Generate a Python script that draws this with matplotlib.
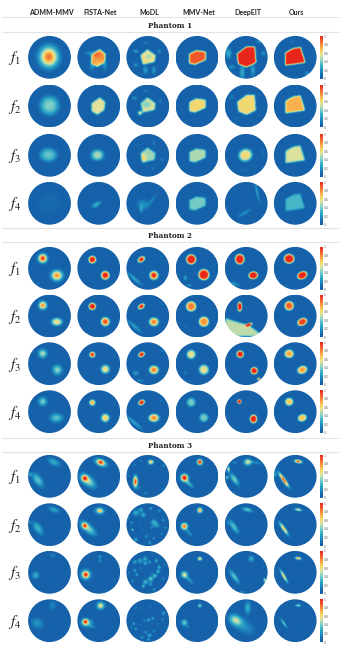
import numpy as np
import matplotlib
matplotlib.use('Agg')
import matplotlib.pyplot as plt
from matplotlib.colors import LinearSegmentedColormap, Normalize
from matplotlib.cm import ScalarMappable
from matplotlib.path import Path
from matplotlib.patches import Circle

METHODS = ['ADMM-MMV', 'FISTA-Net', 'MoDL', 'MMV-Net', 'DeepEIT', 'Ours']
PHANTOMS = ['Phantom 1', 'Phantom 2', 'Phantom 3']
FREQS = ['$f_1$', '$f_2$', '$f_3$', '$f_4$']
CBAR_TICKS = [0, 0.2, 0.4, 0.6, 0.8, 1]
CBAR_LABELS = ['0', '0.2', '0.4', '0.6', '0.8', '1']

# colours
CMAP_VALUES = [0.0, 0.05, 0.17, 0.3, 0.42, 0.55, 0.65, 0.8, 1.0]
CMAP_COLORS = ['#1662aa', '#1662aa', '#1c86bd', '#35aec8', '#82d0c4', '#e3e39a',
               '#f9d45e', '#f58a3c', '#e8261c']

# phantom 1 inclusion outline per method, disc coordinates
P1_OUTLINES = [
    [],
    [(-0.3, 0.1), (0.05, 0.35), (0.3, 0.15), (0.25, -0.2), (-0.05, -0.4), (-0.3, -0.25)],
    [(-0.3, 0.1), (0.0, 0.35), (0.35, 0.1), (0.3, -0.2), (-0.2, -0.3)],
    [(-0.35, 0.15), (-0.05, 0.3), (0.35, 0.25), (0.35, -0.1), (-0.1, -0.3), (-0.35, -0.25)],
    [(-0.4, 0.15), (0.0, 0.45), (0.35, 0.45), (0.4, -0.2), (0.0, -0.4), (-0.35, -0.25)],
    [(-0.44, 0.19), (-0.11, 0.38), (0.21, 0.43), (0.41, -0.21), (-0.43, -0.33)],
]
# level of that outline, one row per frequency
P1_LEVELS = [
    [0.0, 0.68, 0.62, 0.9, 1.1, 1.1],
    [0.0, 0.55, 0.55, 0.62, 0.62, 0.72],
    [0.0, 0.0, 0.46, 0.48, 0.0, 0.54],
    [0.0, 0.0, 0.0, 0.4, 0.0, 0.33],
]

# blobs: x, y, rx, ry, angle, level, [edge sharpness]
P1_F1 = [
    [(-0.03, 0.03, 0.33, 0.36, 0, 0.85)],
    [(0.0, 0.1, 0.2, 0.2, 0, 0.15), (-0.4, 0.2, 0.22, 0.09, 0, 0.2), (0.3, -0.35, 0.1, 0.25, 0, 0.2),
     (-0.3, -0.4, 0.1, 0.2, 0, 0.2)],
    [(0.05, 0.05, 0.15, 0.15, 0, -0.15), (-0.55, 0.3, 0.12, 0.07, 0, 0.25), (-0.1, -0.6, 0.1, 0.15, 0, 0.25),
     (0.3, -0.6, 0.08, 0.15, 0, 0.25), (-0.55, -0.35, 0.1, 0.08, 0, 0.22), (0.55, 0.3, 0.08, 0.1, 0, 0.2),
     (-0.1, 0.7, 0.15, 0.06, 0, 0.15)],
    [(0.5, -0.5, 0.1, 0.1, 0, 0.06)],
    [(-0.85, 0.2, 0.12, 0.2, 0, 0.3), (0.8, 0.2, 0.1, 0.1, 0, 0.2), (-0.2, -0.7, 0.1, 0.3, 0, 0.3),
     (0.3, -0.6, 0.1, 0.25, 0, 0.25), (-0.7, -0.45, 0.15, 0.1, 0, 0.2), (0.6, 0.75, 0.15, 0.08, 0, 0.2)],
    [(0.55, -0.75, 0.1, 0.1, 0, 0.2), (-0.15, 0.75, 0.15, 0.08, 0, 0.12), (-0.7, 0.3, 0.1, 0.1, 0, 0.08)],
]
P1_F2 = [
    [(0.0, 0.0, 0.42, 0.42, 0, 0.42, 3)],
    [(0.45, 0.4, 0.1, 0.1, 0, 0.05)],
    [(-0.35, -0.35, 0.08, 0.08, 0, 0.6), (-0.05, 0.05, 0.16, 0.12, 0, -0.15), (-0.6, 0.35, 0.12, 0.08, 0, 0.2),
     (0.6, 0.2, 0.08, 0.1, 0, 0.15), (-0.1, 0.7, 0.12, 0.06, 0, 0.15)],
    [],
    [(-0.7, 0.4, 0.15, 0.15, 0, 0.12), (0.6, 0.5, 0.12, 0.1, 0, 0.1), (-0.5, -0.6, 0.15, 0.08, 0, 0.1)],
    [(0.5, 0.6, 0.1, 0.1, 0, 0.05)],
]
P1_F3 = [
    [(-0.05, 0.03, 0.38, 0.3, 0, 0.38, 3)],
    [(-0.05, 0.02, 0.28, 0.24, 0, 0.48, 3)],
    [(-0.22, -0.15, 0.1, 0.15, 0, 0.22), (0.3, 0.6, 0.06, 0.15, 0, 0.15), (0.7, -0.2, 0.08, 0.08, 0, 0.15),
     (0.25, -0.6, 0.08, 0.08, 0, 0.15), (-0.5, 0.5, 0.08, 0.06, 0, 0.1)],
    [],
    [(-0.05, 0.02, 0.3, 0.27, 25, 0.62, 4), (0.75, 0.1, 0.05, 0.3, 0, 0.12), (-0.1, -0.7, 0.3, 0.07, 0, 0.1)],
    [],
]
P1_F4 = [
    [(0.0, 0.0, 0.8, 0.8, 0, 0.08)],
    [(-0.1, -0.05, 0.2, 0.09, 30, 0.32)],
    [(-0.2, -0.05, 0.25, 0.2, 0, 0.22), (0.25, 0.2, 0.06, 0.25, -35, 0.16), (-0.3, -0.3, 0.06, 0.15, 0, 0.18),
     (0.6, -0.1, 0.08, 0.06, 0, 0.08)],
    [],
    [(0.5, 0.55, 0.06, 0.4, 12, 0.24), (-0.1, -0.45, 0.3, 0.07, 30, 0.2), (-0.4, 0.2, 0.5, 0.4, 0, 0.06)],
    [],
]

P2_F1 = [
    [(-0.32, 0.48, 0.15, 0.15, 0, 1.0), (0.35, -0.33, 0.2, 0.18, 0, 0.8), (-0.55, -0.7, 0.1, 0.05, 0, 0.12)],
    [(-0.29, 0.42, 0.16, 0.16, 0, 1.05, 4), (0.32, -0.32, 0.18, 0.18, 0, 1.0, 4)],
    [(-0.29, 0.43, 0.16, 0.11, 35, 1.05, 3), (0.3, -0.32, 0.18, 0.18, 0, 1.0, 3),
     (-0.62, -0.48, 0.38, 0.07, -40, 0.28), (0.65, 0.55, 0.12, 0.05, 30, 0.12)],
    [(-0.3, 0.43, 0.21, 0.21, 0, 1.1, 5), (0.3, -0.29, 0.23, 0.23, 0, 1.1, 5),
     (-0.57, -0.44, 0.07, 0.09, 0, 0.28), (-0.38, -0.79, 0.1, 0.05, 0, 0.25)],
    [(-0.32, 0.44, 0.2, 0.22, 0, 1.1, 5), (0.32, -0.32, 0.2, 0.16, 10, 1.1, 5),
     (-0.6, -0.73, 0.25, 0.08, -15, 0.22)],
    [(-0.3, 0.46, 0.22, 0.2, 0, 1.1, 5), (0.32, -0.32, 0.22, 0.16, 25, 1.1, 5),
     (-0.4, -0.8, 0.15, 0.05, 0, 0.12)],
]
P2_F2 = [
    [(-0.32, 0.48, 0.14, 0.14, 0, 0.82), (0.35, -0.3, 0.24, 0.17, 0, 0.58, 3)],
    [(-0.29, 0.43, 0.15, 0.15, 0, 1.05, 4), (0.32, -0.29, 0.18, 0.18, 0, 0.92, 3),
     (-0.55, -0.5, 0.1, 0.05, 0, 0.1)],
    [(-0.29, 0.43, 0.15, 0.1, 35, 1.05, 3), (0.3, -0.3, 0.2, 0.18, 0, 0.82, 3),
     (-0.62, -0.5, 0.38, 0.07, -40, 0.26), (0.7, 0.55, 0.1, 0.05, 30, 0.12)],
    [(-0.3, 0.43, 0.22, 0.22, 0, 0.82, 5), (0.3, -0.29, 0.22, 0.22, 0, 0.78, 5),
     (-0.55, -0.5, 0.1, 0.06, 0, 0.12)],
    [(-0.32, 0.42, 0.1, 0.2, 0, 1.1, 4), (0.12, -0.43, 0.15, 0.06, 20, 1.1, 3)],
    [(-0.3, 0.46, 0.2, 0.2, 0, 0.88, 5), (0.32, -0.3, 0.22, 0.16, 25, 0.95, 5)],
]
P2_F3 = [
    [(-0.32, 0.47, 0.16, 0.16, 0, 0.5), (0.37, -0.3, 0.18, 0.18, 0, 0.45)],
    [(-0.29, 0.42, 0.12, 0.12, 0, 1.0, 3), (0.32, -0.27, 0.19, 0.19, 0, 0.6, 3)],
    [(-0.28, 0.43, 0.14, 0.1, 30, 1.1, 3), (0.3, -0.3, 0.2, 0.18, 0, 0.82, 3),
     (-0.55, -0.45, 0.12, 0.1, 0, 0.25), (-0.35, -0.8, 0.15, 0.06, -20, 0.2), (0.7, 0.6, 0.1, 0.05, 0, 0.15),
     (-0.8, -0.1, 0.06, 0.05, 0, 0.12)],
    [(-0.3, 0.43, 0.2, 0.2, 0, 0.58, 4), (0.3, -0.29, 0.22, 0.22, 0, 0.58, 4),
     (-0.57, -0.44, 0.07, 0.09, 0, 0.15), (-0.38, -0.8, 0.1, 0.05, 0, 0.12)],
    [(-0.3, 0.44, 0.15, 0.15, 0, 1.1, 4), (0.36, -0.34, 0.15, 0.15, 0, 1.1, 4),
     (0.58, -0.73, 0.05, 0.05, 0, 1.0), (0.7, 0.4, 0.06, 0.15, 0, 0.1)],
    [(-0.3, 0.46, 0.2, 0.18, 0, 0.75, 4), (0.32, -0.3, 0.22, 0.17, 20, 0.76, 4),
     (-0.55, -0.5, 0.1, 0.06, 0, 0.1)],
]
P2_F4 = [
    [(-0.32, 0.47, 0.16, 0.16, 0, 0.42), (0.33, -0.3, 0.24, 0.17, 0, 0.38)],
    [(-0.29, 0.42, 0.13, 0.13, 0, 0.72, 3), (0.32, -0.3, 0.18, 0.18, 0, 0.65, 3)],
    [(-0.28, 0.43, 0.14, 0.1, 30, 1.1, 3), (0.3, -0.3, 0.22, 0.17, 0, 0.8, 3),
     (-0.65, -0.5, 0.42, 0.07, -40, 0.28), (0.65, 0.5, 0.12, 0.05, 30, 0.13)],
    [(-0.3, 0.43, 0.2, 0.2, 0, 0.4, 4), (0.3, -0.29, 0.2, 0.2, 0, 0.4, 4)],
    [(-0.34, 0.47, 0.09, 0.09, 0, 1.1, 4), (0.33, -0.35, 0.15, 0.18, 0, 1.1, 4),
     (-0.6, -0.7, 0.12, 0.05, 0, 0.1)],
    [(-0.3, 0.46, 0.18, 0.17, 0, 0.68, 4), (0.32, -0.3, 0.2, 0.16, 20, 0.68, 4)],
]
# wedge of artefact in DeepEIT, phantom 2, f2
P2_WEDGE = [(-1.0, -0.1), (-0.6, -0.25), (0.12, -0.45), (0.85, -1.0), (-1.0, -1.0)]
P2_WEDGE_LEVEL = 0.5

P3_F1 = [
    [(0.2, 0.68, 0.25, 0.12, -25, 0.3), (-0.55, -0.16, 0.3, 0.15, -55, 0.38), (-0.92, 0.1, 0.05, 0.06, 0, 0.3)],
    [(0.1, 0.67, 0.12, 0.08, -20, 0.65), (0.12, 0.65, 0.26, 0.14, -25, 0.4), (-0.65, -0.08, 0.1, 0.1, 0, 0.75),
     (-0.5, -0.2, 0.33, 0.17, -40, 0.5)],
    [(0.16, 0.68, 0.1, 0.08, 0, 0.7), (-0.57, -0.24, 0.08, 0.2, 0, 0.95), (-0.4, -0.55, 0.06, 0.08, 0, 0.15),
     (0.75, 0.5, 0.05, 0.06, 0, 0.2), (-0.6, 0.55, 0.05, 0.05, 0, 0.2), (-0.3, 0.75, 0.05, 0.05, 0, 0.2),
     (-0.9, 0.05, 0.05, 0.08, 0, 0.15), (0.7, -0.6, 0.06, 0.05, 0, 0.15), (-0.1, -0.8, 0.1, 0.05, 0, 0.2),
     (0.85, 0.1, 0.04, 0.06, 0, 0.12), (0.0, 0.2, 0.05, 0.05, 0, 0.08)],
    [(0.11, 0.68, 0.07, 0.07, 0, 1.0), (0.11, 0.68, 0.14, 0.14, 0, 0.3), (-0.62, -0.05, 0.1, 0.1, 0, 0.85),
     (-0.6, -0.08, 0.17, 0.17, 0, 0.35), (-0.38, -0.35, 0.22, 0.07, -45, 0.3)],
    [(0.06, 0.68, 0.14, 0.12, 0, 0.55), (-0.57, -0.13, 0.26, 0.1, -55, 0.42), (-0.85, 0.35, 0.05, 0.1, 0, 0.55),
     (-0.92, -0.05, 0.04, 0.06, 0, 0.5), (0.5, 0.65, 0.25, 0.05, -10, 0.2), (-0.55, 0.65, 0.12, 0.05, 0, 0.2)],
    [(0.13, 0.71, 0.13, 0.06, -10, 0.95), (-0.55, -0.16, 0.3, 0.06, -55, 0.95), (-0.95, 0.1, 0.04, 0.1, 0, 0.35),
     (0.85, -0.5, 0.05, 0.05, 0, 0.1)],
]
P3_F2 = [
    [(0.2, 0.7, 0.22, 0.1, -20, 0.27), (-0.55, -0.17, 0.28, 0.14, -55, 0.33), (-0.92, 0.1, 0.04, 0.05, 0, 0.22)],
    [(0.06, 0.65, 0.1, 0.07, -10, 0.45), (0.06, 0.65, 0.2, 0.15, 0, 0.3), (-0.65, -0.05, 0.09, 0.09, 0, 0.7),
     (-0.5, -0.17, 0.35, 0.15, -40, 0.45)],
    [],
    [(0.11, 0.67, 0.08, 0.08, 0, 0.6), (0.11, 0.67, 0.13, 0.13, 0, 0.2), (-0.63, -0.08, 0.1, 0.1, 0, 0.65),
     (-0.6, -0.08, 0.15, 0.15, 0, 0.25), (-0.38, -0.4, 0.2, 0.06, -45, 0.22)],
    [(0.03, 0.7, 0.2, 0.08, -15, 0.38), (-0.6, -0.1, 0.3, 0.1, -55, 0.37), (-0.9, 0.05, 0.04, 0.06, 0, 0.15)],
    [(0.13, 0.7, 0.13, 0.05, -10, 0.6), (-0.55, -0.2, 0.27, 0.06, -55, 0.7), (-0.95, 0.1, 0.04, 0.08, 0, 0.15)],
]
P3_F3 = [
    [(0.16, 0.81, 0.12, 0.1, 0, 0.15), (-0.65, -0.13, 0.14, 0.14, 0, 0.3)],
    [(0.06, 0.75, 0.07, 0.07, 0, 0.25), (0.06, 0.55, 0.06, 0.06, 0, 0.25), (-0.6, -0.1, 0.1, 0.1, 0, 0.7),
     (-0.6, -0.1, 0.2, 0.2, 0, 0.4)],
    [],
    [(0.11, 0.65, 0.08, 0.07, 0, 0.65), (-0.62, -0.1, 0.12, 0.12, 0, 0.55), (-0.38, -0.35, 0.2, 0.07, -45, 0.25)],
    [(0.22, 0.65, 0.12, 0.12, 0, 0.3), (-0.57, -0.2, 0.3, 0.09, -55, 0.38), (0.87, -0.37, 0.05, 0.09, 20, 0.55),
     (0.8, 0.25, 0.05, 0.05, 0, 0.12), (-0.2, -0.92, 0.08, 0.03, 0, 0.3)],
    [(0.13, 0.67, 0.11, 0.05, -10, 0.8), (-0.55, -0.17, 0.25, 0.05, -60, 0.68), (-0.95, 0.0, 0.03, 0.1, 0, 0.2)],
]
P3_F4 = [
    [(0.14, 0.71, 0.15, 0.2, 0, 0.17), (-0.57, -0.13, 0.25, 0.2, -30, 0.22)],
    [(0.1, 0.7, 0.1, 0.1, 0, 0.4), (0.1, 0.7, 0.18, 0.17, 0, 0.25), (-0.62, -0.05, 0.09, 0.09, 0, 0.75),
     (-0.55, -0.12, 0.22, 0.15, 0, 0.4), (-0.25, -0.3, 0.15, 0.04, -10, 0.15)],
    [],
    [(0.11, 0.7, 0.07, 0.07, 0, 0.45), (-0.62, -0.1, 0.12, 0.12, 0, 0.4), (-0.45, -0.3, 0.1, 0.05, -45, 0.15)],
    [(0.06, 0.6, 0.12, 0.25, 0, 0.3), (-0.52, 0.03, 0.25, 0.18, -30, 0.45), (-0.1, -0.3, 0.45, 0.25, -30, 0.2),
     (0.85, -0.6, 0.05, 0.1, 0, 0.3), (-0.55, 0.6, 0.2, 0.1, 0, 0.08)],
    [(0.13, 0.71, 0.1, 0.05, 0, 0.45), (-0.55, -0.13, 0.2, 0.05, -55, 0.38)],
]

# MoDL speckle for phantom 3: x, y, radius, level
MODL_F2 = [(-0.55, 0.55, 0.12, 0.3), (-0.3, 0.7, 0.08, 0.28), (-0.2, 0.45, 0.1, 0.28), (0.15, 0.75, 0.05, 0.35),
           (0.55, 0.65, 0.07, 0.2), (-0.75, 0.1, 0.06, 0.25), (-0.7, -0.25, 0.05, 0.4), (-0.55, -0.7, 0.07, 0.3),
           (0.3, 0.1, 0.12, 0.3), (0.45, -0.05, 0.1, 0.22), (0.2, -0.15, 0.06, 0.2), (0.75, 0.2, 0.06, 0.25),
           (-0.05, -0.55, 0.08, 0.2), (0.3, -0.65, 0.06, 0.22), (0.65, -0.45, 0.06, 0.18), (-0.2, -0.2, 0.05, 0.15),
           (0.85, -0.15, 0.05, 0.25), (-0.9, 0.3, 0.04, 0.22), (0.1, -0.85, 0.07, 0.25), (-0.35, 0.1, 0.05, 0.15)]
MODL_F3 = [(-0.6, 0.5, 0.07, 0.3), (-0.35, 0.55, 0.1, 0.28), (-0.1, 0.65, 0.08, 0.32), (-0.1, 0.42, 0.07, 0.3),
           (0.1, 0.5, 0.06, 0.28), (0.42, 0.55, 0.07, 0.3), (0.55, 0.25, 0.07, 0.32), (0.5, 0.05, 0.07, 0.35),
           (0.35, -0.15, 0.08, 0.35), (0.15, -0.3, 0.1, 0.38), (-0.1, -0.45, 0.09, 0.35), (-0.2, -0.65, 0.06, 0.35),
           (0.15, -0.55, 0.07, 0.25), (-0.6, 0.1, 0.06, 0.3), (-0.5, -0.1, 0.06, 0.28), (-0.7, -0.4, 0.06, 0.25),
           (0.75, -0.3, 0.05, 0.22), (0.3, -0.8, 0.06, 0.25), (-0.85, 0.0, 0.05, 0.2), (0.8, 0.35, 0.05, 0.2),
           (0.2, -0.05, 0.05, 0.15), (-0.3, 0.2, 0.05, 0.18)]
MODL_F4 = [(-0.55, 0.6, 0.05, 0.2), (-0.25, 0.5, 0.05, 0.15), (0.15, 0.65, 0.05, 0.15), (0.75, 0.35, 0.07, 0.28),
           (0.7, 0.05, 0.05, 0.25), (0.25, 0.1, 0.06, 0.3), (0.05, 0.02, 0.07, 0.3), (-0.15, 0.0, 0.05, 0.22),
           (-0.65, -0.15, 0.05, 0.35), (-0.55, -0.4, 0.05, 0.3), (-0.75, -0.3, 0.04, 0.25), (-0.1, -0.55, 0.07, 0.22),
           (0.1, -0.7, 0.08, 0.3), (0.3, -0.5, 0.06, 0.22), (-0.25, -0.8, 0.06, 0.25), (0.85, -0.35, 0.05, 0.15),
           (0.05, -0.9, 0.05, 0.3), (0.5, -0.15, 0.04, 0.15)]

P1_ROWS = [P1_F1, P1_F2, P1_F3, P1_F4]
P2_ROWS = [P2_F1, P2_F2, P2_F3, P2_F4]
P3_ROWS = [P3_F1, P3_F2, P3_F3, P3_F4]
MODL_ROWS = [None, MODL_F2, MODL_F3, MODL_F4]

W, H = 345, 650
COL_X = [49.5, 98.8, 147.8, 197.0, 246.2, 295.2]
ROW_Y = [[57.3, 106.0, 155.3, 203.3], [268.3, 316.0, 363.7, 411.7], [476.3, 524.7, 572.3, 620.7]]
RADIUS = 21.4
GRID = 72
POLY_GROW = 1.12    # outlines were read at the pale rim, mask needs to be a bit larger
SOFT_GROW = 1.3     # same for blobs
FLAT_GROW = 1.1

xs = np.linspace(-1, 1, GRID)
X, Y = np.meshgrid(xs, xs)
cmap = LinearSegmentedColormap.from_list('eit', list(zip(CMAP_VALUES, CMAP_COLORS)))
norm = Normalize(0, 1)


def blur(a, n=2):
    # numpy only, small binomial filter applied n times
    k = np.array([1, 4, 6, 4, 1]) / 16
    for _ in range(n):
        a = np.apply_along_axis(lambda r: np.convolve(r, k, mode='same'), 0, a)
        a = np.apply_along_axis(lambda r: np.convolve(r, k, mode='same'), 1, a)
    return a


def polygon_field(outline, level, grow=POLY_GROW):
    if level == 0 or not outline:
        return np.zeros_like(X)
    pts = np.column_stack([X.ravel(), Y.ravel()])
    scaled = np.array(outline) * grow
    mask = Path(scaled).contains_points(pts).reshape(X.shape).astype(float)
    return blur(mask) * level


def blob_field(blob):
    x, y, rx, ry, ang, level = blob[:6]
    p = blob[6] if len(blob) > 6 else 2
    grow = SOFT_GROW if p <= 2 else FLAT_GROW
    t = np.deg2rad(ang)
    u = (X - x) * np.cos(t) + (Y - y) * np.sin(t)
    v = -(X - x) * np.sin(t) + (Y - y) * np.cos(t)
    return level * np.exp(-(np.sqrt((u / (rx * grow)) ** 2 + (v / (ry * grow)) ** 2)) ** p)


def cell_field(p, r, c):
    field = np.zeros_like(X)
    if p == 0:
        field += polygon_field(P1_OUTLINES[c], P1_LEVELS[r][c])
        blobs = P1_ROWS[r][c]
    elif p == 1:
        blobs = P2_ROWS[r][c]
        if r == 1 and c == 4:
            field += polygon_field(P2_WEDGE, P2_WEDGE_LEVEL, grow=1.0)
    else:
        blobs = P3_ROWS[r][c]
        if c == 2 and MODL_ROWS[r] is not None:
            for sx, sy, sr, sl in MODL_ROWS[r]:
                field += blob_field((sx, sy, sr, sr, 0, sl))
    for b in blobs:
        field += blob_field(b)
    return np.clip(field, 0, 1)


def px_axes(fig, left, top, right, bottom):
    return fig.add_axes([left / W, 1 - bottom / H, (right - left) / W, (bottom - top) / H])


fig = plt.figure(figsize=(W / 100, H / 100), dpi=100, facecolor='white')

for name, x in zip(METHODS, COL_X):
    fig.text(x / W + 0.005, 1 - 12.3 / H, name, ha='center', va='center', fontsize=5.0,
             fontweight='bold', family='Lato', color='#222222')

# grey rules around each phantom title
for y in [17.3, 32.3, 227.6, 242.0, 437.6, 452.0]:
    fig.add_artist(plt.Line2D([3 / W, 338 / W], [1 - y / H, 1 - y / H], color='#e2e2e2', lw=0.8))

for p, title in enumerate(PHANTOMS):
    fig.text(170 / W, 1 - [25.8, 236.0, 446.0][p] / H, title, ha='center', va='center', fontsize=5.2,
             fontweight='bold', family='DejaVu Serif', color='#222222')
    for r, freq_y in enumerate(ROW_Y[p]):
        fig.text(14.5 / W, 1 - (freq_y + 1) / H, FREQS[r], ha='center', va='center', fontsize=11,
                 math_fontfamily='stix', color='#222222')
        for c, x in enumerate(COL_X):
            ax = px_axes(fig, x - RADIUS, freq_y - RADIUS, x + RADIUS, freq_y + RADIUS)
            im = ax.imshow(cell_field(p, r, c), cmap=cmap, norm=norm, origin='lower',
                           extent=[-1, 1, -1, 1], interpolation='bilinear')
            im.set_clip_path(Circle((0, 0), 1, transform=ax.transData))
            ax.axis('off')
        cax = px_axes(fig, 320, freq_y - 21.3, 323.4, freq_y + 21.3)
        cb = fig.colorbar(ScalarMappable(norm=norm, cmap=cmap), cax=cax, ticks=CBAR_TICKS)
        cb.ax.set_yticklabels(CBAR_LABELS)
        cb.ax.tick_params(length=0, labelsize=2.2, pad=0.4, labelcolor='#555555')
        cb.outline.set_visible(False)

fig.savefig('out.png', dpi=100, facecolor='white')
